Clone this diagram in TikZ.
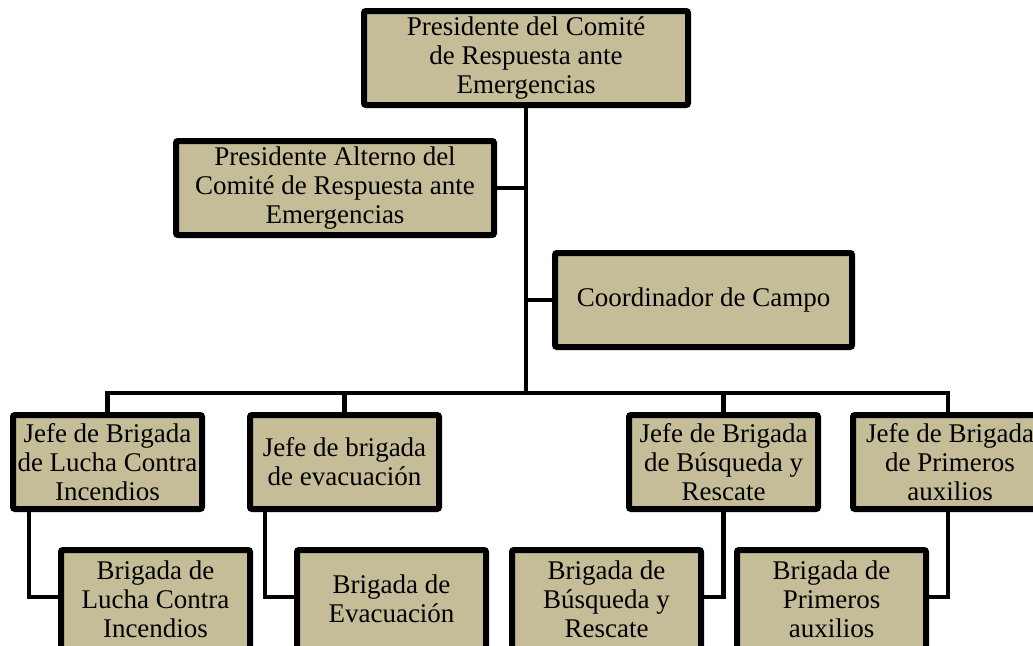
\documentclass[tikz,border=0pt]{standalone}
\usepackage{fontspec}
\setmainfont{Liberation Serif}
\usepackage{xcolor}
\usepackage{tikz}
\usetikzlibrary{positioning, calc}
\definecolor{boxtan}{HTML}{C4BD97}
\tikzset{
  orgbox/.style={rectangle, rounded corners=2pt, draw=black, line width=6pt,
                 fill=boxtan, text=black, font=\fontsize{27}{29}\selectfont,
                 minimum width=#1, minimum height=94pt,
                 inner sep=1pt, align=center},
  orgbox/.default=189pt,
  lowbox/.style={orgbox, minimum height=108pt, text depth=10pt},
  wire/.style={line width=4.5pt, black},
}

\begin{document}
\begin{tikzpicture}[x=1pt, y=-1pt]
  \fill[white] (0,0) rectangle (1033,645);
  \useasboundingbox (0,0) rectangle (1033,645);
  \clip (0,0) rectangle (1033,645);
  %% Top of the chart
  \node[orgbox=324pt] (pres)  at (526,58)    {Presidente del Comité\\de Respuesta ante\\Emergencias};
  \node[orgbox=318pt] (alt)   at (335,188)   {Presidente Alterno del\\Comité de Respuesta ante\\Emergencias};
  \node[orgbox=297pt] (coord) at (703.5,300) {Coordinador de Campo};
  \coordinate (bus) at (526,393);
  \draw[wire] (pres.south) -- (bus);
  \draw[wire] (alt.east) -- (alt.east -| bus);
  \draw[wire] (coord.west) -- (coord.west -| bus);
  %% Jefes de brigada
  \node[orgbox] (jefe1) at (107.5,462) {Jefe de Brigada\\de Lucha Contra\\Incendios};
  \node[orgbox] (jefe2) at (344.5,462) {Jefe de brigada\\de evacuación};
  \node[orgbox] (jefe3) at (723.5,462) {Jefe de Brigada\\de Búsqueda y\\Rescate};
  \node[orgbox=194pt] (jefe4) at (950,462) {Jefe de Brigada\\de Primeros\\auxilios};
  \draw[wire] (jefe1.north) |- (bus) -| ([xshift=-2pt]jefe4.north);
  \foreach \j in {jefe2,jefe3}
    \draw[wire] (\j.north) -- (\j.north |- bus);
  %% Brigadas
  \node[lowbox] (brig1) at (155.5,604) {Brigada de\\Lucha Contra\\Incendios};
  \node[lowbox] (brig2) at (391.5,604) {Brigada de\\Evacuación};
  \node[lowbox] (brig3) at (606.5,604) {Brigada de\\Búsqueda y\\Rescate};
  \node[lowbox] (brig4) at (831.5,604) {Brigada de\\Primeros\\auxilios};
  \draw[wire] ([xshift=19pt]jefe1.south west) |- ([yshift=7pt]brig1.west);
  \draw[wire] ([xshift=18pt]jefe2.south west) |- ([yshift=7pt]brig2.west);
  \draw[wire] (jefe3.south) |- ([yshift=7pt]brig3.east);
  \draw[wire] ([xshift=-2pt]jefe4.south) |- ([yshift=7pt]brig4.east);
\end{tikzpicture}
\end{document}
